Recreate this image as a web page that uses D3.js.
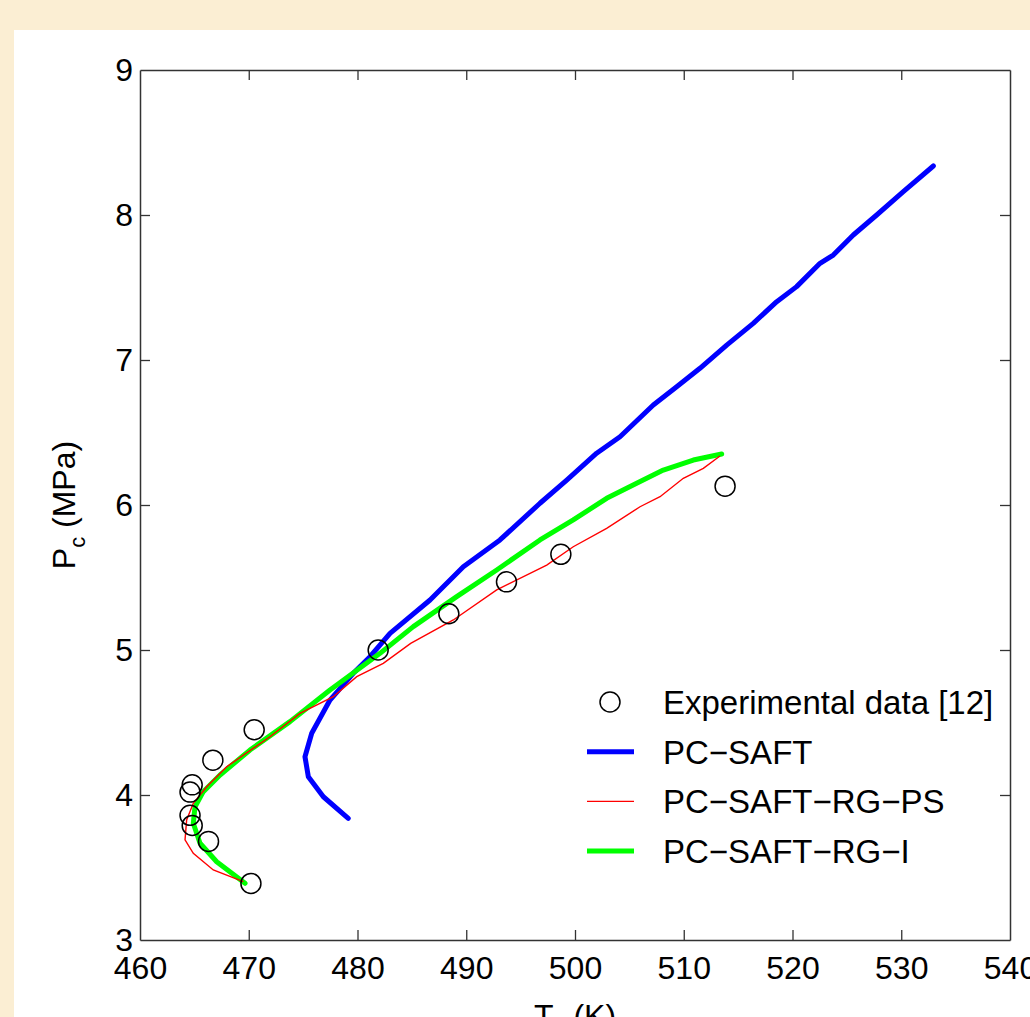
<!DOCTYPE html>
<html>
<head>
<meta charset="utf-8">
<script src="https://d3js.org/d3.v7.min.js"></script>
<style>
  html, body { margin: 0; padding: 0; background: #fbeed3; overflow: hidden; }
  svg { display: block; font-family: "Liberation Sans", Arial, sans-serif; }
</style>
</head>
<body>
<svg width="1030" height="1017"></svg>
<script>
// experimental data [12]
var expT = [470.2, 466.3, 464.8, 464.6, 464.6, 464.8, 466.7, 470.5, 481.9, 488.4, 493.7, 498.7, 513.8];
var expP = [3.39, 3.68, 3.79, 3.86, 4.02, 4.07, 4.24, 4.45, 5.00, 5.25, 5.47, 5.66, 6.13];

// PC-SAFT
var saftT = [479.15, 476.86, 475.48, 475.17, 475.79, 477.47, 479.61, 481.15, 482.99, 486.67, 489.73, 493.10,
             496.78, 499.24, 501.99, 504.14, 507.20, 509.35, 511.49, 513.95, 516.39, 518.55, 520.38, 522.53,
             523.75, 525.59, 527.74, 530.19, 532.95];
var saftP = [3.839, 3.988, 4.126, 4.264, 4.426, 4.655, 4.839, 4.954, 5.115, 5.345, 5.574, 5.759,
             6.012, 6.172, 6.357, 6.471, 6.690, 6.816, 6.943, 7.103, 7.253, 7.402, 7.506, 7.667,
             7.724, 7.862, 8.000, 8.161, 8.338];

// PC-SAFT-RG-PS
var psT = [469.50, 466.74, 464.90, 464.14, 464.29, 464.90, 466.13, 467.97, 471.95, 474.71, 477.78, 479.93,
           482.37, 484.89, 488.81, 492.80, 497.40, 499.84, 502.91, 505.98, 507.82, 509.96, 511.80, 513.33];
var psP = [3.402, 3.483, 3.598, 3.690, 3.828, 3.943, 4.057, 4.195, 4.402, 4.563, 4.678, 4.816,
           4.908, 5.046, 5.207, 5.414, 5.586, 5.712, 5.839, 5.988, 6.057, 6.184, 6.253, 6.338];

// PC-SAFT-RG-I
var rgiT = [469.66, 467.05, 465.52, 464.90, 465.06, 465.82, 467.36, 470.11, 473.79, 477.47, 482.07,
            485.13, 489.12, 492.80, 496.78, 499.84, 502.91, 505.67, 508.12, 510.88, 513.49];
var rgiP = [3.391, 3.540, 3.667, 3.805, 3.919, 4.023, 4.138, 4.310, 4.506, 4.724, 4.977,
            5.161, 5.368, 5.552, 5.759, 5.897, 6.046, 6.150, 6.241, 6.310, 6.352];

var xTicks = [460, 470, 480, 490, 500, 510, 520, 530, 540];
var yTicks = [3, 4, 5, 6, 7, 8, 9];

var legendLabels = ["Experimental data [12]", "PC\u2212SAFT", "PC\u2212SAFT\u2212RG\u2212PS", "PC\u2212SAFT\u2212RG\u2212I"];

(function() {
    var svg = d3.select("svg");

    // white figure panel on the beige page
    svg.append("rect")
        .attr("x", 14).attr("y", 30)
        .attr("width", 1030).attr("height", 1017)
        .attr("fill", "#ffffff");

    var m = {left: 140, right: 1010, top: 70, bottom: 940};

    var x = d3.scaleLinear().domain([460, 540]).range([m.left, m.right]);
    var y = d3.scaleLinear().domain([3, 9]).range([m.bottom, m.top]);

    var axisColor = "#333";
    var tickLen = 10;
    var fmt = d3.format("d");

    // axes: ticks point inward, box on all four sides
    var gx = svg.append("g")
        .attr("transform", "translate(0," + m.bottom + ")")
        .call(d3.axisBottom(x).tickValues(xTicks).tickFormat(fmt).tickSizeInner(-tickLen).tickSizeOuter(0).tickPadding(16));
    var gxTop = svg.append("g")
        .attr("transform", "translate(0," + m.top + ")")
        .call(d3.axisTop(x).tickValues(xTicks).tickSizeInner(-tickLen).tickSizeOuter(0).tickFormat(""));
    var gy = svg.append("g")
        .attr("transform", "translate(" + m.left + ",0)")
        .call(d3.axisLeft(y).tickValues(yTicks).tickFormat(fmt).tickSizeInner(-tickLen).tickSizeOuter(0).tickPadding(7));
    var gyRight = svg.append("g")
        .attr("transform", "translate(" + m.right + ",0)")
        .call(d3.axisRight(y).tickValues(yTicks).tickSizeInner(-tickLen).tickSizeOuter(0).tickFormat(""));

    [gx, gxTop, gy, gyRight].forEach(function(g) {
        g.select(".domain").attr("stroke", axisColor).attr("stroke-width", 1.5);
        g.selectAll(".tick line").attr("stroke", axisColor).attr("stroke-width", 1.3);
        g.selectAll(".tick text")
            .attr("fill", "#000")
            .style("font-size", "32px")
            .style("font-family", "'Liberation Sans', Arial, sans-serif");
    });
    gx.selectAll(".tick text").attr("dy", "0.71em");
    // no ticks on the frame corners
    [gx, gxTop].forEach(function(g) {
        g.selectAll(".tick line").filter(function(d) { return d === 460 || d === 540; }).remove();
    });
    [gy, gyRight].forEach(function(g) {
        g.selectAll(".tick line").filter(function(d) { return d === 3 || d === 9; }).remove();
    });

    // axis titles
    var xt = svg.append("text")
        .attr("x", (m.left + m.right) / 2)
        .attr("y", 1027)
        .attr("text-anchor", "middle")
        .style("font-size", "32px");
    xt.append("tspan").text("T");
    xt.append("tspan").attr("dy", 10).style("font-size", "22px").text("c");
    xt.append("tspan").attr("dy", -10).text(" (K)");

    var yt = svg.append("text")
        .attr("transform", "translate(75," + ((m.top + m.bottom) / 2) + ") rotate(-90)")
        .attr("text-anchor", "middle")
        .style("font-size", "32px");
    yt.append("tspan").text("P");
    yt.append("tspan").attr("dy", 10).style("font-size", "22px").text("c");
    yt.append("tspan").attr("dy", -10).text(" (MPa)");

    // series
    function pairs(ts, ps) { return ts.map(function(t, i) { return [t, ps[i]]; }); }
    var line = d3.line().x(function(d) { return x(d[0]); }).y(function(d) { return y(d[1]); });

    svg.append("path")
        .datum(pairs(saftT, saftP))
        .attr("d", line)
        .attr("fill", "none").attr("stroke", "#0000ff").attr("stroke-width", 5)
        .attr("stroke-linejoin", "round").attr("stroke-linecap", "round");

    svg.append("path")
        .datum(pairs(rgiT, rgiP))
        .attr("d", line)
        .attr("fill", "none").attr("stroke", "#00ff00").attr("stroke-width", 5)
        .attr("stroke-linejoin", "round").attr("stroke-linecap", "round");

    svg.append("path")
        .datum(pairs(psT, psP))
        .attr("d", line)
        .attr("fill", "none").attr("stroke", "#ff0000").attr("stroke-width", 1.4);

    svg.selectAll(".exp")
        .data(pairs(expT, expP))
        .enter().append("circle")
        .attr("class", "exp")
        .attr("cx", function(d) { return x(d[0]); })
        .attr("cy", function(d) { return y(d[1]); })
        .attr("r", 10)
        .attr("fill", "none").attr("stroke", "#000").attr("stroke-width", 1.5);

    // legend
    var legend = svg.append("g");
    var lgColors = [null, "#0000ff", "#ff0000", "#00ff00"];
    var lgWidths = [0, 5, 1.4, 5];
    legendLabels.forEach(function(lab, i) {
        var ly = 702 + i * 49.7;
        if (i === 0) {
            legend.append("circle").attr("cx", 610).attr("cy", ly).attr("r", 10)
                .attr("fill", "none").attr("stroke", "#000").attr("stroke-width", 1.5);
        } else {
            legend.append("line").attr("x1", 587).attr("x2", 634).attr("y1", ly).attr("y2", ly)
                .attr("stroke", lgColors[i]).attr("stroke-width", lgWidths[i]);
        }
        legend.append("text").attr("x", 663).attr("y", ly).attr("dy", "0.36em")
            .style("font-size", "33px").text(lab);
    });
})();
</script>
</body>
</html>
